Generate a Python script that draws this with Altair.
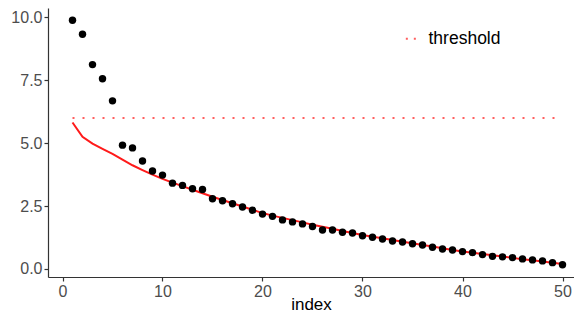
import altair as alt
import pandas as pd

index = list(range(1, 51))
eigen = [9.88, 9.33, 8.12, 7.56, 6.68, 4.92, 4.81, 4.29, 3.89, 3.73,
         3.41, 3.32, 3.19, 3.16, 2.79, 2.71, 2.59, 2.46, 2.33, 2.18,
         2.09, 1.95, 1.87, 1.79, 1.69, 1.55, 1.55, 1.46, 1.43, 1.32,
         1.26, 1.19, 1.11, 1.07, 1.00, 0.95, 0.86, 0.79, 0.75, 0.69,
         0.65, 0.57, 0.50, 0.48, 0.45, 0.40, 0.36, 0.32, 0.25, 0.17]
curve = [5.82, 5.25, 4.98, 4.77, 4.57, 4.34, 4.12, 3.93, 3.75, 3.58,
         3.43, 3.29, 3.15, 3.01, 2.87, 2.74, 2.61, 2.48, 2.35, 2.22,
         2.12, 2.03, 1.94, 1.85, 1.76, 1.68, 1.60, 1.51, 1.43, 1.35,
         1.28, 1.22, 1.15, 1.08, 1.02, 0.95, 0.89, 0.82, 0.75, 0.69,
         0.64, 0.59, 0.54, 0.49, 0.44, 0.39, 0.35, 0.30, 0.25, 0.20]
threshold_value = 6.0
threshold_x = [1, 50]
threshold_label = "threshold"

df = pd.DataFrame({"index": index, "eigen": eigen, "curve": curve})
thr = pd.DataFrame({"index": threshold_x,
                    "value": [threshold_value] * len(threshold_x),
                    "series": [threshold_label] * len(threshold_x)})

xscale = alt.Scale(domain=[-1.45, 51.15], nice=False, zero=False)
yscale = alt.Scale(domain=[-0.32, 10.37], nice=False, zero=False)
xaxis = alt.Axis(values=[0, 10, 20, 30, 40, 50], format="d", grid=False,
                 titleBaseline="alphabetic", titleY=32)
yaxis = alt.Axis(values=[0, 2.5, 5, 7.5, 10], format=".1f", grid=False)

thr_layer = alt.Chart(thr).mark_line(strokeWidth=2, strokeDash=[2, 8]).encode(
    x=alt.X("index:Q", scale=xscale, axis=xaxis, title="index"),
    y=alt.Y("value:Q", scale=yscale, axis=yaxis, title=None),
    color=alt.Color("series:N", scale=alt.Scale(range=["#ff5e5e"]),
                    legend=alt.Legend(title=None, orient="none", legendX=355, legendY=22,
                                      labelFontSize=17.5, labelColor="black",
                                      labelFont="Liberation Sans",
                                      symbolType="stroke", symbolStrokeWidth=2,
                                      symbolDash=[2, 6], symbolSize=140, labelOffset=8)),
)

curve_layer = alt.Chart(df).mark_line(color="#ff1a1a", strokeWidth=2).encode(
    x=alt.X("index:Q", scale=xscale),
    y=alt.Y("curve:Q", scale=yscale),
)

pts = alt.Chart(df).mark_circle(color="black", size=55, opacity=1).encode(
    x=alt.X("index:Q", scale=xscale),
    y=alt.Y("eigen:Q", scale=yscale),
)

chart = alt.layer(thr_layer, curve_layer, pts).properties(
    width=526, height=269,
    autosize=alt.AutoSizeParams(type="none"),
    padding={"left": 40, "top": 0, "right": 0, "bottom": 35},
).configure_view(stroke=None).configure_axis(
    domainColor="#333333", domainWidth=1.2, tickColor="#333333", tickWidth=1.2,
    tickSize=4, labelColor="#4d4d4d", labelFontSize=16, labelFont="Liberation Sans",
    labelPadding=2, titleFont="Liberation Sans", titleFontSize=17, titleColor="black",
    titleFontWeight="normal",
)

chart.save("out.html", embed_options={"renderer": "svg", "actions": False})
